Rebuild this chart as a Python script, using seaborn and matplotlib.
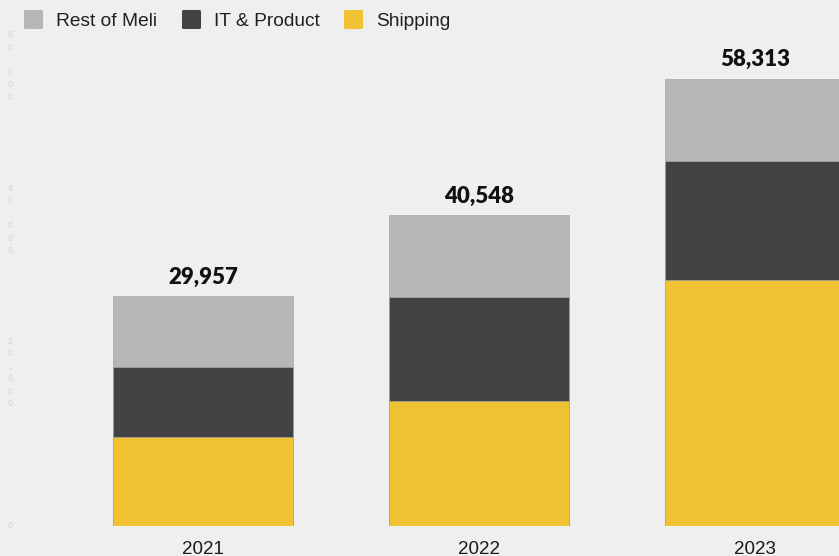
import matplotlib
matplotlib.use("Agg")
import matplotlib.pyplot as plt
from matplotlib.lines import Line2D
from matplotlib.markers import MarkerStyle
import seaborn as sns
import pandas as pd
import numpy as np

# Headcount by area, per year
years = ["2021", "2022", "2023"]
shipping = [11670, 16250, 32085]
it_product = [9080, 13650, 15588]
rest_of_meli = [9207, 10648, 10640]

segments = ["Rest of Meli", "IT & Product", "Shipping"]
colors = {"Rest of Meli": "#b6b6b6", "IT & Product": "#424242", "Shipping": "#f1c232"}

y_ticks = [0, 20000, 40000, 60000]
y_tick_labels = ["0", "20,000", "40,000", "60,000"]

bg = "#efefef"

sns.set_theme(style="white")
plt.rcParams["font.family"] = ["Liberation Sans", "DejaVu Sans"]

df = pd.DataFrame({
    "year": years,
    "Shipping": shipping,
    "IT & Product": it_product,
    "Rest of Meli": rest_of_meli,
})
# Cumulative heights so each layer can be painted over the one above it
df["cum_ship"] = df["Shipping"]
df["cum_it"] = df["Shipping"] + df["IT & Product"]
df["total"] = df["cum_it"] + df["Rest of Meli"]

W, H = 839, 556
fig = plt.figure(figsize=(W / 100, H / 100), dpi=100, facecolor=bg)
ax = fig.add_axes([0, 30 / H, 1, 526 / H])
ax.set_facecolor(bg)

bar_w = 0.652
for col, seg in [("total", "Rest of Meli"), ("cum_it", "IT & Product"), ("cum_ship", "Shipping")]:
    sns.barplot(data=df, x="year", y=col, color=colors[seg], width=bar_w,
                saturation=1, edgecolor="#a8a8a8", linewidth=0.5, ax=ax)

ax.set_xlim(-203 / 276, (W - 203) / 276)
ax.set_ylim(0, 526 * 130.5)

# Totals above each stack
for i, tot in enumerate(df["total"]):
    ax.annotate(f"{tot:,}", xy=(i, tot), xytext=(0, 9.2), textcoords="offset points",
                ha="center", va="baseline", fontsize=16, fontweight="heavy",
                family=["Lato", "DejaVu Sans"], color="#111111")

ax.set_xlabel("")
ax.set_ylabel("")
ax.tick_params(axis="x", length=0, pad=10.5, labelsize=13.5, labelcolor="#1a1a1a")

# Faint stacked-character value axis
ax.set_yticks(y_ticks)
ax.set_yticklabels(["\n".join(s) for s in y_tick_labels])
ax.tick_params(axis="y", length=0, pad=-7.6, labelsize=6.5, labelcolor="#d4d4d4")
for lbl in ax.get_yticklabels():
    lbl.set_ha("center")
    lbl.set_va("center")
    lbl.set_multialignment("center")
    lbl.set_linespacing(1.5)

for s in ax.spines.values():
    s.set_visible(False)
ax.grid(False)

handles = [Line2D([], [], linestyle="none",
                  marker=MarkerStyle("s", joinstyle="round"),
                  markersize=12.2, markeredgewidth=2.2,
                  markerfacecolor=colors[s], markeredgecolor=colors[s])
           for s in segments]
fig.legend(handles, segments, loc="upper left", bbox_to_anchor=(14 / W, 1 - 1.5 / H),
           ncol=3, frameon=False, fontsize=13.8, handlelength=1.0, handleheight=1.0,
           handletextpad=0.68, columnspacing=1.28, borderpad=0, labelcolor="#1f1f1f")

fig.savefig("out.png", dpi=100, facecolor=bg)
